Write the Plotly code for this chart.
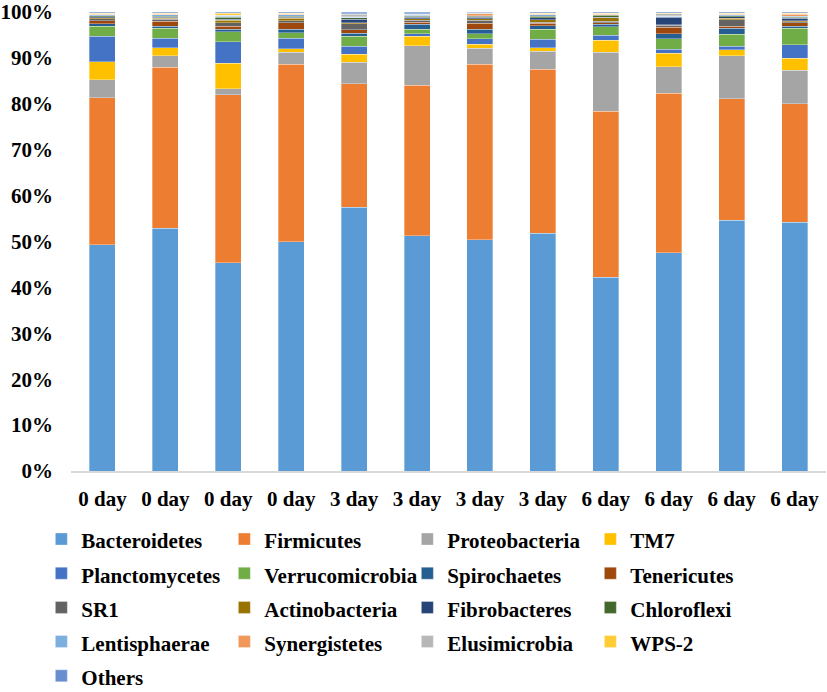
import plotly.graph_objects as go

# ---- data -------------------------------------------------------------
samples = ["S1", "S2", "S3", "S4", "S5", "S6", "S7", "S8", "S9", "S10", "S11", "S12"]
tick_labels = ["0 day", "0 day", "0 day", "0 day", "3 day", "3 day",
               "3 day", "3 day", "6 day", "6 day", "6 day", "6 day"]

bacteroidetes   = [49.3, 53.1, 45.5, 50.2, 57.8, 51.5, 50.6, 52.0, 42.4, 47.6, 54.9, 54.5]
firmicutes      = [32.0, 35.2, 36.7, 38.9, 27.0, 32.9, 38.4, 35.8, 36.4, 34.9, 26.5, 25.9]
proteobacteria  = [3.9, 2.5, 1.3, 2.6, 4.7, 8.6, 3.5, 3.9, 12.9, 5.7, 9.4, 7.4]
tm7             = [4.0, 1.8, 5.6, 0.8, 1.7, 2.1, 0.9, 0.8, 2.6, 3.0, 1.3, 2.6]
planctomycetes  = [5.5, 2.1, 4.7, 2.2, 1.8, 0.5, 1.2, 1.8, 1.1, 0.9, 0.8, 2.9]
verrucomicrobia = [2.2, 2.2, 2.2, 1.3, 2.2, 1.0, 1.0, 2.2, 1.9, 2.3, 2.6, 3.6]
spirochaetes    = [0.5, 0.4, 0.5, 0.7, 0.7, 1.1, 1.0, 0.8, 0.5, 1.1, 1.3, 0.5]
tenericutes     = [0.7, 1.1, 0.7, 1.4, 0.7, 0.5, 1.3, 0.5, 0.3, 1.4, 0.5, 0.7]
sr1             = [0.4, 0.4, 0.7, 0.5, 1.3, 0.4, 0.7, 0.3, 0.4, 0.4, 1.4, 0.3]
actinobacteria  = [0.2, 0.2, 0.6, 0.5, 0.2, 0.3, 0.3, 0.5, 0.7, 0.1, 0.3, 0.2]
fibrobacteres   = [0.3, 0.3, 0.2, 0.2, 0.8, 0.4, 0.4, 0.4, 0.1, 1.7, 0.4, 0.5]
chloroflexi     = [0.2, 0.2, 0.5, 0.3, 0.3, 0.2, 0.2, 0.4, 0.5, 0.1, 0.2, 0.3]
lentisphaerae   = [0.2, 0.3, 0.2, 0.3, 0.2, 0.2, 0.1, 0.3, 0.1, 0.1, 0.2, 0.2]
synergistetes   = [0.1, 0.1, 0.1, 0.1, 0.1, 0.1, 0.4, 0.1, 0.1, 0.1, 0.1, 0.4]
elusimicrobia   = [0.1, 0.1, 0.1, 0.1, 0.5, 0.1, 0.1, 0.1, 0.1, 0.4, 0.1, 0.1]
wps2            = [0.1, 0.1, 0.4, 0.1, 0.1, 0.1, 0.1, 0.1, 0.1, 0.1, 0.1, 0.1]
others          = [0.3, 0.3, 0.3, 0.3, 0.4, 0.4, 0.2, 0.3, 0.3, 0.3, 0.3, 0.3]

phyla = ["Bacteroidetes", "Firmicutes", "Proteobacteria", "TM7",
         "Planctomycetes", "Verrucomicrobia", "Spirochaetes", "Tenericutes",
         "SR1", "Actinobacteria", "Fibrobacteres", "Chloroflexi",
         "Lentisphaerae", "Synergistetes", "Elusimicrobia", "WPS-2", "Others"]
series = [bacteroidetes, firmicutes, proteobacteria, tm7, planctomycetes,
          verrucomicrobia, spirochaetes, tenericutes, sr1, actinobacteria,
          fibrobacteres, chloroflexi, lentisphaerae, synergistetes,
          elusimicrobia, wps2, others]
colors = ["#5B9BD5", "#ED7D31", "#A5A5A5", "#FFC000", "#4472C4", "#70AD47",
          "#255E91", "#9E480E", "#636363", "#997300", "#264478", "#43682B",
          "#7CAFDD", "#F1975A", "#B7B7B7", "#FFCD33", "#698ED0"]

y_ticks = [0, 10, 20, 30, 40, 50, 60, 70, 80, 90, 100]
y_tick_text = [f"{v}%" for v in y_ticks]

FONT = "Liberation Serif"

# ---- figure -----------------------------------------------------------
fig = go.Figure()
for name, vals, col in zip(phyla, series, colors):
    fig.add_trace(go.Bar(
        x=samples, y=vals,
        name=f'<span style="font-size:21px">{name}</span>',
        marker=dict(color=col, line=dict(color="rgba(255,255,255,0.55)", width=0.6)),
    ))

fig.update_layout(
    barmode="stack",
    barnorm="percent",
    bargap=0.587,
    width=827, height=692,
    margin=dict(l=71, r=1, t=12, b=221),
    paper_bgcolor="white", plot_bgcolor="white",
    font=dict(family=FONT, size=21, color="black"),
    showlegend=True,
    legend=dict(
        orientation="h",
        xref="container", yref="container",
        x=0.05, y=0.253, xanchor="left", yanchor="top",
        entrywidthmode="pixels", entrywidth=138,
        font=dict(family=FONT, size=24, color="black", weight="bold"),
        traceorder="normal",
        itemclick=False,
    ),
)
fig.update_xaxes(
    type="category",
    tickmode="array", tickvals=samples, ticktext=tick_labels,
    tickfont=dict(family=FONT, size=21, color="black", weight="bold"),
    showline=True, linecolor="#D9D9D9", linewidth=1.5,
    ticks="", showgrid=False, ticklabelstandoff=8,
)
fig.update_yaxes(
    range=[0, 100],
    tickmode="array", tickvals=y_ticks, ticktext=y_tick_text,
    tickfont=dict(family=FONT, size=21, color="black", weight="bold"),
    showgrid=False, zeroline=False, showline=False, ticks="",
    ticklabelstandoff=17,
)

fig.write_html("out.html", config={"displayModeBar": False},
               post_script="document.body.style.margin='0';")
